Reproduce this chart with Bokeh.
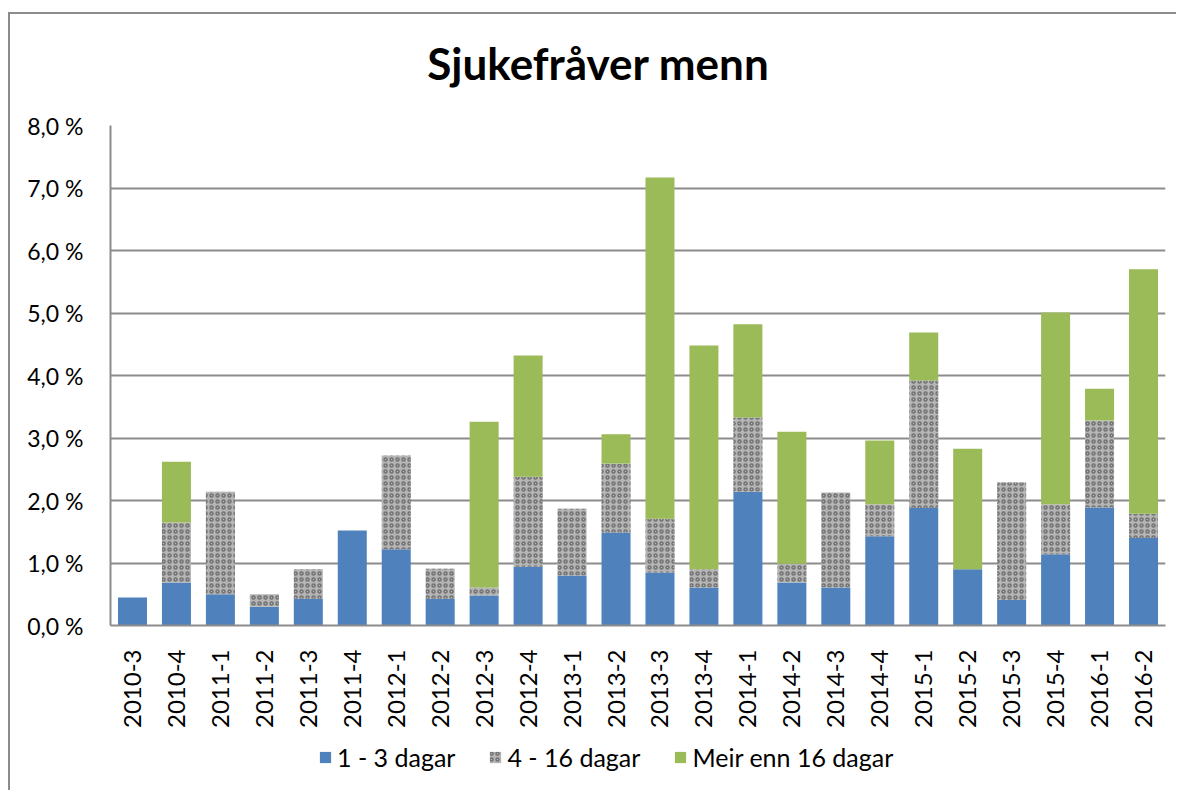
import math
from bokeh.plotting import figure
from bokeh.layouts import column
from bokeh.models import FixedTicker, Legend, LegendItem, ColumnDataSource, Div, Spacer
from bokeh.embed import file_html
from bokeh.resources import INLINE

categories = ["2010-3", "2010-4", "2011-1", "2011-2", "2011-3", "2011-4",
              "2012-1", "2012-2", "2012-3", "2012-4", "2013-1", "2013-2",
              "2013-3", "2013-4", "2014-1", "2014-2", "2014-3", "2014-4",
              "2015-1", "2015-2", "2015-3", "2015-4", "2016-1", "2016-2"]
short_days = [0.45, 0.69, 0.50, 0.30, 0.43, 1.52, 1.22, 0.43, 0.48, 0.94, 0.80, 1.49,
              0.85, 0.61, 2.14, 0.69, 0.61, 1.43, 1.88, 0.90, 0.41, 1.14, 1.89, 1.40]
mid_days = [0.00, 0.96, 1.64, 0.20, 0.47, 0.00, 1.50, 0.48, 0.13, 1.44, 1.07, 1.10,
            0.86, 0.29, 1.19, 0.30, 1.52, 0.51, 2.04, 0.00, 1.88, 0.80, 1.39, 0.39]
long_days = [0.00, 0.97, 0.00, 0.00, 0.00, 0.00, 0.00, 0.00, 2.65, 1.94, 0.00, 0.47,
             5.46, 3.58, 1.49, 2.11, 0.00, 1.02, 0.77, 1.93, 0.00, 3.07, 0.51, 3.91]
series_names = ["1 - 3 dagar", "4 - 16 dagar", "Meir enn 16 dagar"]
y_ticks = [0, 1, 2, 3, 4, 5, 6, 7, 8]
y_tick_labels = ["0,0 %", "1,0 %", "2,0 %", "3,0 %", "4,0 %", "5,0 %", "6,0 %", "7,0 %", "8,0 %"]
title_text = "Sjukefråver menn"

FONT = "Lato"
GRID = "#8c8c8c"
COLORS = ["#4f81bd", "#b5b5b5", "#9bbb59"]
HATCH = dict(hatch_pattern="ring", hatch_color="#555555", hatch_scale=6,
             hatch_weight=1.5, hatch_alpha=0.7)
W = 1166

src = ColumnDataSource(dict(cat=categories, a=short_days, b=mid_days, c=long_days))

title = Div(text=title_text, width=W, height=53, margin=0,
            styles={"font-family": "Lato", "font-size": "44px", "font-weight": "bold",
                    "line-height": "53px", "text-align": "center", "color": "black",
                    "padding-left": "10px", "box-sizing": "border-box"})

p = figure(x_range=categories, y_range=(0, 8), width=W, height=645,
           output_backend="svg", toolbar_location=None,
           min_border_left=100, min_border_right=11, min_border_top=35,
           min_border_bottom=110)

r = p.vbar_stack(["a", "b", "c"], x="cat", width=0.66, source=src,
                 fill_color=COLORS, line_color=None)
for k, v in HATCH.items():
    setattr(r[1].glyph, k, v)

p.outline_line_color = None
p.xgrid.grid_line_color = None
p.ygrid.grid_line_color = GRID
p.ygrid.grid_line_width = 2
p.ygrid.ticker = FixedTicker(ticks=y_ticks)

p.yaxis.ticker = FixedTicker(ticks=y_ticks)
p.yaxis.major_label_overrides = {t: l for t, l in zip(y_ticks, y_tick_labels)}
p.yaxis.axis_line_color = GRID
p.yaxis.axis_line_width = 2
p.yaxis.major_tick_line_color = None
p.yaxis.minor_tick_line_color = None
p.yaxis.major_label_text_font = FONT
p.yaxis.major_label_text_font_size = "23px"
p.yaxis.major_label_text_color = "black"
p.yaxis.major_label_standoff = 21

p.xaxis.axis_line_color = GRID
p.xaxis.axis_line_width = 2
p.xaxis.major_tick_line_color = None
p.xaxis.minor_tick_line_color = None
p.xaxis.major_label_orientation = math.pi / 2
p.xaxis.major_label_text_font = FONT
p.xaxis.major_label_text_font_size = "24px"
p.xaxis.major_label_text_color = "black"
p.xaxis.major_label_standoff = 18

# legend strip
pl = figure(x_range=(0, 1), y_range=(0, 1), width=W, height=55,
            output_backend="svg", toolbar_location=None,
            x_axis_type=None, y_axis_type=None, min_border=0)
pl.outline_line_color = None
pl.grid.grid_line_color = None
stub = ColumnDataSource(dict(x=[0.5], top=[0.0]))
dummies = []
for i in range(3):
    g = pl.vbar(x="x", top="top", width=0.01, source=stub, fill_color=COLORS[i], line_color=None)
    if i == 1:
        for k, v in HATCH.items():
            setattr(g.glyph, k, v)
    dummies.append(g)

legend = Legend(items=[LegendItem(label=series_names[i], renderers=[dummies[i]]) for i in range(3)],
                orientation="horizontal", location=(208, 18),
                label_text_font=FONT, label_text_font_size="25px", label_text_color="black",
                glyph_width=14, glyph_height=14, label_standoff=5, spacing=33,
                padding=0, margin=0, border_line_color=None, background_fill_alpha=0)
pl.add_layout(legend, "center")

layout = column(Spacer(height=23), title, p, pl, spacing=0)
layout.styles = {"border-left": "2px solid #8c8c8c", "border-top": "2px solid #8c8c8c",
                 "margin-top": "12px", "margin-left": "8px"}

open("out.html", "w").write(file_html(layout, INLINE))
